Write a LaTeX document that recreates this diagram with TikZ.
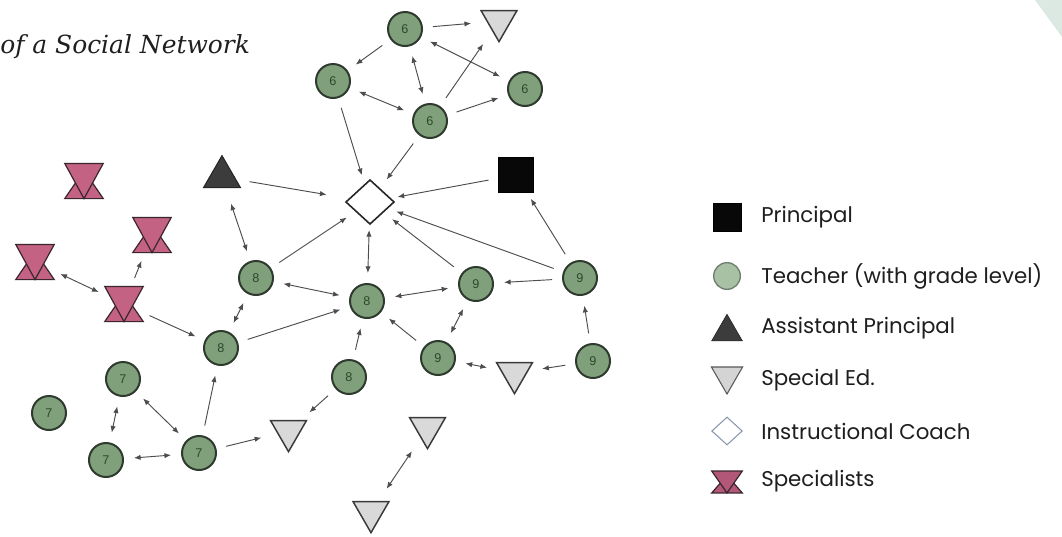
\documentclass[tikz,border=0pt]{standalone}
\usepackage{fontspec}
\setmainfont{DejaVu Serif}
\newfontfamily\legfont{Poppins}
\newfontfamily\numfont{Liberation Sans}
\usetikzlibrary{shapes.geometric,arrows.meta,calc}
\definecolor{tgreen}{HTML}{80A07C}
\definecolor{tline}{HTML}{2E3A2E}
\definecolor{tnum}{HTML}{2A4A2A}
\definecolor{spgray}{HTML}{D9D9D9}
\definecolor{spline}{HTML}{3A3A3A}
\definecolor{edgec}{HTML}{4D4D4D}
\definecolor{pinkf}{HTML}{C46283}
\definecolor{pinkd}{HTML}{3A2630}
\definecolor{stripe}{HTML}{DCE9E2}
\definecolor{apfill}{HTML}{3C3C3C}
\definecolor{legtxt}{HTML}{1E1E1E}
\definecolor{lgreen}{HTML}{A8C0A4}
\definecolor{lgline}{HTML}{6E7E6E}
\definecolor{lcoach}{HTML}{8A98B0}
\definecolor{lpink}{HTML}{B35778}
\tikzset{
  teacher/.style={circle, draw=tline, fill=tgreen, line width=1.5pt, minimum size=25.5pt, inner sep=0pt,
    font=\numfont\fontsize{9.5}{9.5}\selectfont, text=tnum},
  sped/.style={regular polygon, regular polygon sides=3, shape border rotate=180, draw=spline, fill=spgray,
    line width=1.1pt, inner sep=0pt, minimum size=31pt},
  apst/.style={regular polygon, regular polygon sides=3, draw=black!85, fill=apfill,
    line width=0.8pt, inner sep=0pt, minimum size=32pt},
  princ/.style={rectangle, draw=black, fill=black!97, inner sep=0pt, minimum size=26.5pt},
  coach/.style={diamond, draw=black!85, fill=white, line width=1.2pt, inner sep=0pt,
    minimum width=36.5pt, minimum height=33.5pt},
  hgbox/.style={rectangle, inner sep=0pt, minimum width=28.5pt, minimum height=26pt},
  hgdraw/.style={fill=pinkf, draw=pinkd, line width=0.9pt, line join=miter},
  con/.style={draw=edgec, line width=0.7pt, shorten <=21pt, shorten >=21pt},
  one/.style={con, -{Latex[length=5pt,width=4pt]}},
  two/.style={con, {Latex[length=5pt,width=4pt]}-{Latex[length=5pt,width=4pt]}},
  legtext/.style={anchor=west, inner sep=0pt, font=\legfont\fontsize{16}{18}\selectfont, text=legtxt},
}
\newcommand{\hglass}[4]{%
  \node[hgbox,#3] (#1) at (#2) {};
  \filldraw[hgdraw,#4] (#1.south west) -- (#1.south east) -- ($(#1.south)!0.8!(#1.north)$) -- cycle;
  \filldraw[hgdraw,#4] (#1.north west) -- (#1.north east) -- (#1.south) -- cycle;
}
\begin{document}
\begin{tikzpicture}[x=0.75pt,y=-0.75pt]
\useasboundingbox (0,0) rectangle (1062,536);
\fill[white] (0,0) rectangle (1062,536);
\fill[stripe] (1035,0) -- (1062,0) -- (1062,37) -- cycle;

% title
\node[anchor=base west, inner sep=0pt, font=\itshape\fontsize{18.7}{21}\selectfont, text=black!88] (title) at (0,53) {of a Social Network};

% grade 6
\node[teacher] (t6a) at (405,29) {6};
\node[teacher] (t6b) at (333,81) {6};
\node[teacher] (t6c) at (430,121) {6};
\node[teacher] (t6d) at (525,89) {6};
\node[sped] (spT) at (499,21) {};

% centre
\node[coach] (coach) at (370,202) {};
\node[princ] (princ) at (516,175) {};
\node[apst] (ap) at (222,177) {};

% grade 8
\node[teacher] (t8a) at (256,278) {8};
\node[teacher] (t8b) at (367,301) {8};
\node[teacher] (t8c) at (221,348) {8};
\node[teacher] (t8d) at (349,377) {8};

% grade 9
\node[teacher] (t9a) at (476,284) {9};
\node[teacher] (t9b) at (438,358) {9};
\node[teacher] (t9c) at (580,278) {9};
\node[teacher] (t9d) at (593,361) {9};

% special ed
\node[sped] (spM) at (514.5,373) {};
\node[sped] (spL) at (288.5,431) {};
\node[sped] (spR) at (427.5,428) {};
\node[sped] (spB) at (371,512) {};

% grade 7
\node[teacher] (t7a) at (123,379) {7};
\node[teacher] (t7z) at (49,413) {7};
\node[teacher] (t7b) at (106,460) {7};
\node[teacher] (t7c) at (199,453) {7};

% specialists
\hglass{s1}{84,181}{}{}
\hglass{s2}{152,235}{}{}
\hglass{s3}{35,262}{}{}
\hglass{s4}{124,304}{}{}

% connectors: grade 6
\draw[one] (t6a.center) -- (spT.center);
\draw[one] (t6a.center) -- (t6b.center);
\draw[two] (t6a.center) -- (t6c.center);
\draw[two] (t6a.center) -- (t6d.center);
\draw[two] (t6b.center) -- (t6c.center);
\draw[one] (t6c.center) -- (spT.center);
\draw[one] (t6c.center) -- (t6d.center);
\draw[one] (t6b.center) -- (coach.center);
\draw[one] (t6c.center) -- (coach.center);
% into coach
\draw[one, shorten >=33pt] (ap.center) -- (coach.center);
\draw[one] (princ.center) -- (coach.center);
\draw[one] (t9c.center) -- (coach.center);
\draw[one] (t9a.center) -- (coach.center);
\draw[two] (t8b.center) -- (coach.center);
\draw[one] (t8a.center) -- (coach.center);
\draw[one] (t9c.center) -- (princ.center);
% grade 9
\draw[one] (t9c.center) -- (t9a.center);
\draw[two] (t8b.center) -- (t9a.center);
\draw[two] (t9a.center) -- (t9b.center);
\draw[one] (t9b.center) -- (t8b.center);
\draw[two] (t9b.center) -- (spM.center);
\draw[one] (t9d.center) -- (spM.center);
\draw[one] (t9d.center) -- (t9c.center);
% grade 8
\draw[one] (t8d.center) -- (t8b.center);
\draw[one] (t8d.center) -- (spL.center);
\draw[two] (t8a.center) -- (t8b.center);
\draw[two] (t8a.center) -- (t8c.center);
\draw[one] (t8c.center) -- (t8b.center);
\draw[one] (s4.center) -- (t8c.center);
\draw[two] (ap.center) -- (t8a.center);
% specialists
\draw[two] (s3.center) -- (s4.center);
\draw[one] (s4.center) -- (s2.center);
% grade 7
\draw[two] (t7a.center) -- (t7b.center);
\draw[two] (t7a.center) -- (t7c.center);
\draw[two] (t7b.center) -- (t7c.center);
\draw[one] (t7c.center) -- (t8c.center);
\draw[one] (t7c.center) -- (spL.center);
% special ed pair
\draw[two] (spR.center) -- (spB.center);

% legend
\node[princ, minimum size=21pt] (lp) at (727,217) {};
\node[legtext] (lpt) at (761,217) {Principal};
\node[circle, draw=lgline, fill=lgreen, line width=1pt, minimum size=20pt, inner sep=0pt] (lt) at (727,276) {};
\node[legtext] (ltt) at (761,276) {Teacher (with grade level)};
\node[apst, minimum size=26.5pt, line width=0.5pt] (la) at (727,332) {};
\node[legtext] (lat) at (761,328) {Assistant Principal};
\node[sped, minimum size=27pt, line width=0.8pt, draw=black!65, fill=black!17] (ls) at (727,376) {};
\node[legtext] (lst) at (761,380) {Special Ed.};
\node[coach, draw=lcoach, line width=0.8pt, minimum width=23pt, minimum height=21pt] (lc) at (727,431) {};
\node[legtext] (lct) at (761,431) {Instructional Coach};
\hglass{lsp}{727,482}{minimum width=22.5pt, minimum height=16pt}{fill=lpink}
\node[legtext] (lspt) at (761,481) {Specialists};
\end{tikzpicture}
\end{document}
